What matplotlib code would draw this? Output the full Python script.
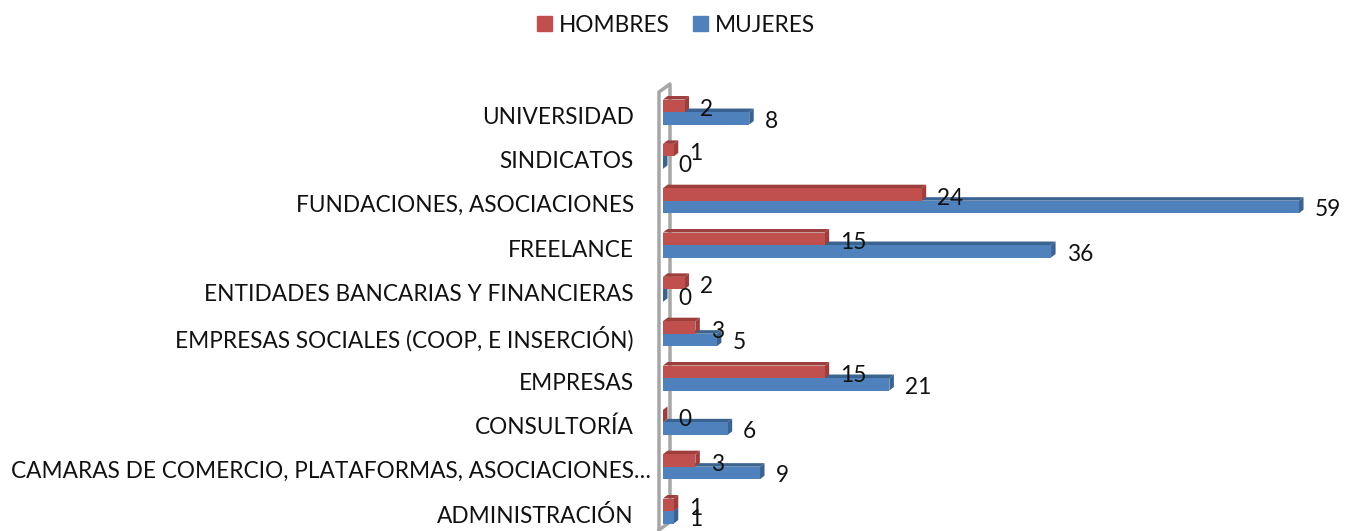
import matplotlib
matplotlib.use("Agg")
import matplotlib.pyplot as plt
from matplotlib.lines import Line2D
from matplotlib.patches import Patch
from matplotlib.transforms import ScaledTranslation

categories = ["ADMINISTRACIÓN", "CAMARAS DE COMERCIO, PLATAFORMAS, ASOCIACIONES…", "CONSULTORÍA",
              "EMPRESAS", "EMPRESAS SOCIALES (COOP, E INSERCIÓN)", "ENTIDADES BANCARIAS Y FINANCIERAS",
              "FREELANCE", "FUNDACIONES, ASOCIACIONES", "SINDICATOS", "UNIVERSIDAD"]
hombres = [1, 3, 0, 15, 3, 2, 15, 24, 1, 2]
mujeres = [1, 9, 6, 21, 5, 0, 36, 59, 0, 8]

W, H = 1358, 531
PX_X = 10.78
PX_Y = 44.33
X0, Y0 = 663, 511
TOP = 85
plt.rcParams["font.family"] = ["Lato", "DejaVu Sans"]
FS = 16.3
TXT = "#111111"
RED, RED_D = "#C0504D", "#9C3F3C"
BLUE, BLUE_D = "#4F81BD", "#3A6390"

fig = plt.figure(figsize=(W / 100, H / 100), dpi=100, facecolor="white")
ax = fig.add_axes([X0 / W, 0, 1 - X0 / W, (H - TOP) / H])
ax.set_xlim(0, (W - X0) / PX_X)
ax.set_ylim(-(H - Y0) / PX_Y, (Y0 - TOP) / PX_Y)
ax.patch.set_alpha(0)
for s in ax.spines.values():
    s.set_visible(False)
ax.set_xticks([])
ys = list(range(len(categories)))
ax.set_yticks(ys)
ax.set_yticklabels(categories, fontsize=FS, color=TXT)
ax.tick_params(axis="y", length=0, pad=20.9)
for lab, txt in zip(ax.get_yticklabels(), categories):
    shift = 17 if txt.endswith("…") else 0
    lab.set_transform(lab.get_transform() + ScaledTranslation(shift / 100, -3 / 100, fig.dpi_scale_trans))

# back wall (3-D frame)
wall = "#A6A6A6"
for xs, yv in [([659, 659, 670, 670], [528, 92, 84, 522]), ([659, 670], [530, 522])]:
    fig.add_artist(Line2D([x / W for x in xs], [1 - y / H for y in yv], color=wall, lw=2.5, zorder=0,
                          solid_joinstyle="round"))

dx, dy = 4.5 / PX_X, 3.5 / PX_Y
bh = 12.5 / PX_Y


def bar3d(y, v, bottom, col, dark, z):
    ax.fill([0, dx, v + dx, v], [bottom + bh, bottom + bh + dy, bottom + bh + dy, bottom + bh],
            color=dark, lw=0, zorder=z, clip_on=False)
    ax.fill([v, v + dx, v + dx, v], [bottom, bottom + dy, bottom + bh + dy, bottom + bh],
            color=dark, lw=0, zorder=z, clip_on=False)
    ax.barh(bottom, v, height=bh, align="edge", color=col, lw=0, zorder=z + 0.1, clip_on=False)


for y, m in zip(ys, mujeres):
    bar3d(y, m, y - bh, BLUE, BLUE_D, 3)
for y, h in zip(ys, hombres):
    bar3d(y, h, y, RED, RED_D, 4)

for y, h, m in zip(ys, hombres, mujeres):
    ax.annotate(str(h), (h, y), xytext=(15.5 * .72, 2.5 * .72), textcoords="offset points",
                ha="left", va="center", fontsize=FS, color=TXT, zorder=6)
    ax.annotate(str(m), (m, y), xytext=(15.5 * .72, -9 * .72), textcoords="offset points",
                ha="left", va="center", fontsize=FS, color=TXT, zorder=6)

handles = [Patch(color=RED, label="HOMBRES"), Patch(color=BLUE, label="MUJERES")]
fig.legend(handles=handles, loc="center", bbox_to_anchor=(676 / W, 1 - 25 / H), ncol=2, frameon=False,
           fontsize=FS, handlelength=0.66, handleheight=0.66, handletextpad=0.3, columnspacing=1.05,
           borderpad=0, labelcolor=TXT)
fig.savefig("out.png", dpi=100)
